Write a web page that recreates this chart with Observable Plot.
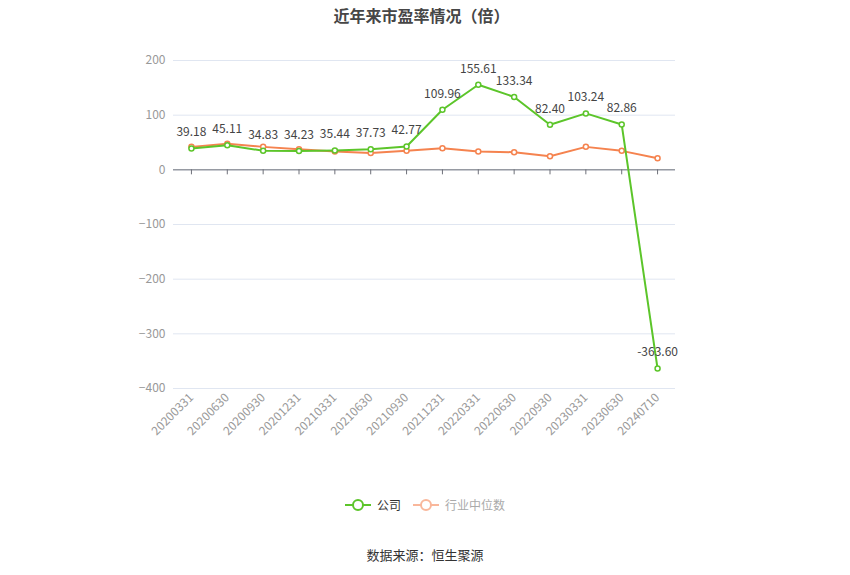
<!DOCTYPE html>
<html>
<head>
<meta charset="utf-8">
<script src="https://cdn.jsdelivr.net/npm/d3@7"></script>
<script src="https://cdn.jsdelivr.net/npm/@observablehq/plot@0.6"></script>
<style>
  body { margin: 0; background: #fff; font-family: "Microsoft YaHei", "Noto Sans CJK SC", sans-serif; }
  #wrap { position: relative; width: 850px; height: 575px; }
  #title { position: absolute; top: 3px; left: 0; width: 843px; text-align: center; font-size: 16px; font-weight: bold; color: #464646; }
  #chart { position: absolute; top: 0; left: 0; }
  #legend { position: absolute; top: 496px; left: 0; width: 850px; display: flex; justify-content: center; gap: 12px; font-size: 12px; color: #333; }
  #legend .item { display: flex; align-items: center; gap: 6px; }
  #caption { position: absolute; top: 545px; left: 0; width: 850px; text-align: center; font-size: 13px; color: #333; }
</style>
</head>
<body>
<div id="wrap">
  <div id="title">近年来市盈率情况（倍）</div>
  <div id="chart"></div>
  <div id="legend"></div>
  <div id="caption">数据来源：恒生聚源</div>
</div>
<script>
const dates = ["20200331","20200630","20200930","20201231","20210331","20210630","20210930","20211231","20220331","20220630","20220930","20230331","20230630","20240710"];
const company = [39.18, 45.11, 34.83, 34.23, 35.44, 37.73, 42.77, 109.96, 155.61, 133.34, 82.40, 103.24, 82.86, -363.60];
const industry = [42, 47.5, 42, 37.7, 33.5, 31, 34.7, 39.5, 33.5, 32.2, 25, 42, 34.7, 21];
const yTicks = [-400, -300, -200, -100, 0, 100, 200];
const seriesNames = ["公司", "行业中位数"];
const colors = ["#5cc52a", "#f5834f"];

const rows = dates.map((d, i) => ({date: d, company: company[i], industry: industry[i]}));

const chart = Plot.plot({
  width: 850,
  height: 440,
  marginLeft: 173,
  marginRight: 175,
  marginTop: 60,
  marginBottom: 52,
  style: {fontFamily: "'Microsoft YaHei','Noto Sans CJK SC',sans-serif", fontSize: "12px", background: "transparent"},
  x: {type: "point", domain: dates, padding: 0.5, round: false},
  y: {domain: [-400, 200]},
  marks: [
    Plot.gridY(yTicks, {stroke: "#e0e6f1", strokeOpacity: 1}),
    Plot.ruleY([0], {stroke: "#6e7079"}),
    Plot.ruleX(dates, {x: d => d, y1: 0, y2: 0, insetBottom: -5, stroke: "#6e7079"}),
    Plot.axisY(yTicks, {tickSize: 0, tickPadding: 8, fill: "#999", fontSize: 12, label: null}),
    Plot.axisX({anchor: "bottom", tickSize: 0, tickPadding: 7, tickRotate: -45, fill: "#999", fontSize: 12, label: null}),
    Plot.line(rows, {x: "date", y: "industry", stroke: colors[1], strokeWidth: 2}),
    Plot.dot(rows, {x: "date", y: "industry", r: 2.5, stroke: colors[1], strokeWidth: 1.5, fill: "#fff"}),
    Plot.line(rows, {x: "date", y: "company", stroke: colors[0], strokeWidth: 2}),
    Plot.dot(rows, {x: "date", y: "company", r: 2.5, stroke: colors[0], strokeWidth: 1.5, fill: "#fff"}),
    Plot.text(rows, {x: "date", y: "company", text: d => d.company.toFixed(2), dy: -16, fill: "#444", fontSize: 12})
  ]
});
document.getElementById("chart").appendChild(chart);

const legend = document.getElementById("legend");
seriesNames.forEach((name, i) => {
  const item = document.createElement("div");
  item.className = "item";
  const c = i === 0 ? colors[0] : "#f9b79b";
  item.innerHTML = `<svg width="26" height="14"><line x1="0" y1="7" x2="26" y2="7" stroke="${c}" stroke-width="2"/><circle cx="13" cy="7" r="5" fill="#fff" stroke="${c}" stroke-width="2"/></svg><span style="color:${i === 0 ? '#333' : '#aaa'}">${name}</span>`;
  legend.appendChild(item);
});
</script>
</body>
</html>
